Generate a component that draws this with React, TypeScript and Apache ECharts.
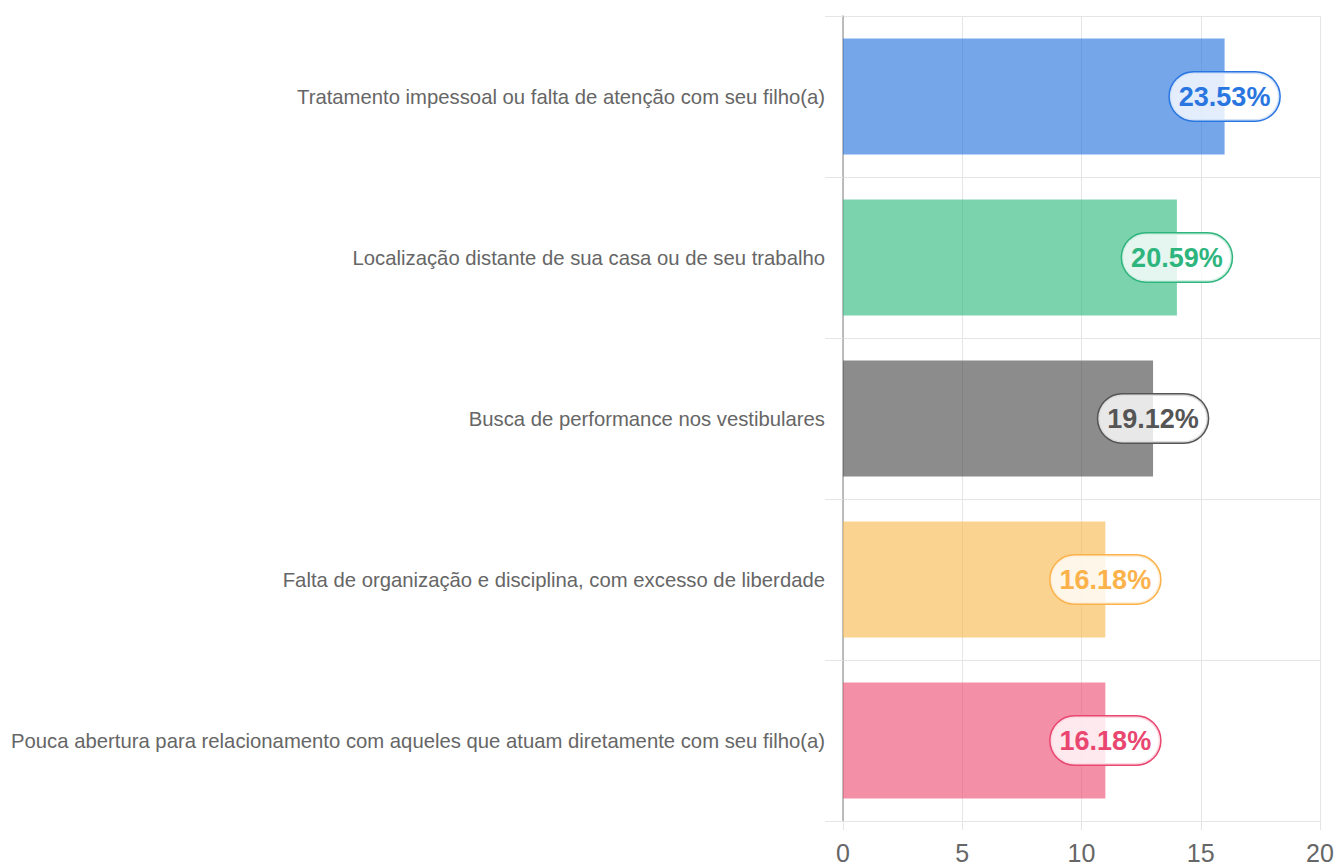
import React, { useEffect, useRef } from "react";
import * as echarts from "echarts";

const categories = [
  "Tratamento impessoal ou falta de atenção com seu filho(a)",
  "Localização distante de sua casa ou de seu trabalho",
  "Busca de performance nos vestibulares",
  "Falta de organização e disciplina, com excesso de liberdade",
  "Pouca abertura para relacionamento com aqueles que atuam diretamente com seu filho(a)",
];
const values = [16, 14, 13, 11, 11];
const percentLabels = ["23.53%", "20.59%", "19.12%", "16.18%", "16.18%"];
const barColors = [
  "rgba(43,118,223,0.65)",
  "rgba(52,187,130,0.65)",
  "rgba(78,78,78,0.65)",
  "rgba(247,187,86,0.65)",
  "rgba(238,83,121,0.65)",
];
const labelColors = ["#2a76e0", "#2eb57d", "#555555", "#fbb24b", "#e94670"];
const xTicks = { min: 0, max: 20, interval: 5 };

const FONT = 'Helvetica, Arial, "Liberation Sans", sans-serif';

export default function App() {
  const ref = useRef<HTMLDivElement>(null);
  useEffect(() => {
    if (!ref.current) return;
    const chart = echarts.init(ref.current, null, { renderer: "svg" });
    chart.setOption({
      animation: false,
      grid: { left: 843, right: 17, top: 16, bottom: 44, containLabel: false },
      xAxis: {
        type: "value",
        min: xTicks.min,
        max: xTicks.max,
        interval: xTicks.interval,
        axisLine: { show: true, lineStyle: { color: "#e5e5e5", width: 1 } },
        axisTick: { show: true, length: 9, lineStyle: { color: "#e5e5e5" } },
        splitLine: { show: true, lineStyle: { color: "#e5e5e5", width: 1 } },
        axisLabel: { fontSize: 25, color: "#666", margin: 19, fontFamily: FONT },
      },
      yAxis: {
        type: "category",
        inverse: true,
        data: categories,
        axisLine: { show: true, lineStyle: { color: "#a8a8a8", width: 1.5 } },
        axisTick: { show: true, length: 18, lineStyle: { color: "#e5e5e5" } },
        splitLine: { show: true, lineStyle: { color: "#e5e5e5", width: 1 } },
        axisLabel: { fontSize: 20.3, color: "#666", margin: 18, fontFamily: FONT },
      },
      series: [
        {
          type: "bar",
          barCategoryGap: "28%",
          data: values.map((v, i) => ({
            value: v,
            itemStyle: { color: barColors[i] },
            label: {
              show: true,
              position: ["100%", "50%"],
              align: "center",
              verticalAlign: "middle",
              formatter: () => percentLabels[i],
              color: labelColors[i],
              fontSize: 27,
              fontWeight: "bold",
              fontFamily: FONT,
              lineHeight: 30,
              backgroundColor: "rgba(255,255,255,0.8)",
              borderColor: labelColors[i],
              borderWidth: 1.5,
              borderRadius: 25,
              padding: [9, 9, 9, 9],
            },
          })),
        },
      ],
    });
    return () => chart.dispose();
  }, []);
  return (
    <div
      ref={ref}
      style={{ position: "fixed", left: 0, top: 0, width: 1337, height: 865, background: "#fff" }}
    />
  );
}
